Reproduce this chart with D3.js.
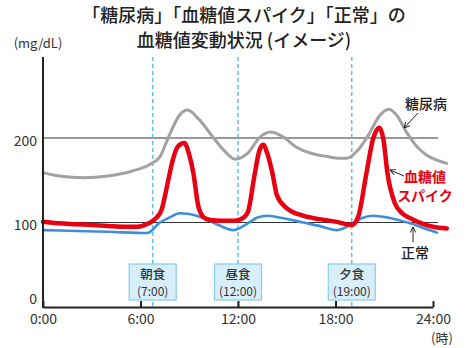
<!DOCTYPE html>
<html><head><meta charset="utf-8">
<script src="https://cdn.jsdelivr.net/npm/d3@7"></script>
<style>
html,body{margin:0;padding:0;background:#fff;}
svg{display:block;font-family:"Noto Sans CJK JP","Noto Sans",sans-serif;}
</style></head>
<body>
<svg id="chart" width="472" height="348"></svg>
<script>
// ---- data ----
const titleLines = ["「糖尿病」「血糖値スパイク」「正常」の", "血糖値変動状況 (イメージ)"];
const xTickValues = [0, 6, 12, 18, 24];
const xTickLabels = ["0:00", "6:00", "12:00", "18:00", "24:00"];
const yTickValues = [0, 100, 200];
const refLines = [100, 200];
const mealNames = ["朝食", "昼食", "夕食"];
const mealLabels = ["(7:00)", "(12:00)", "(19:00)"];
const mealTimes = [6.75, 12, 19];

const diabetesHours  = [0, 1, 2.5, 4, 5.5, 6.6, 7.2, 7.7, 8.4, 8.9, 9.6, 10.5, 11.3, 11.8, 12.6, 13.3, 14, 14.8, 15.6, 16.5, 17.5, 18.2, 18.7, 19.4, 20.1, 20.7, 21.3, 21.8, 22.4, 23, 23.6, 24.2, 24.85];
const diabetesValues = [159, 155, 153, 155, 161, 169, 178, 200, 227, 233, 222, 200, 182, 175, 182, 200, 207, 201, 189, 182, 178, 176, 176, 186, 206, 226, 234, 226, 206, 190, 180, 174, 170];

const spikeHours  = [0, 1, 2, 3, 4, 5, 5.8, 6.5, 7.0, 7.3, 7.6, 8.0, 8.3, 8.7, 9.0, 9.25, 9.55, 9.9, 10.3, 11, 11.8, 12.2, 12.6, 13.0, 13.3, 13.55, 13.8, 14.1, 14.4, 15, 16, 17, 18, 19, 19.4, 19.9, 20.3, 20.7, 20.95, 21.2, 21.65, 22.1, 22.6, 23.3, 24, 24.85];
const spikeValues = [101, 99, 98, 97, 96, 95, 95, 99, 106, 115, 140, 175, 190, 194, 180, 159, 120, 106, 103, 102, 102, 104, 112, 154, 184, 192, 182, 160, 132, 117, 108, 104, 101, 97, 107, 158, 198, 212, 198, 158, 123, 111, 105, 99, 95, 93];

const normalHours  = [0, 2, 4, 6.4, 7.2, 7.8, 8.4, 9.0, 9.9, 10.8, 11.7, 12.6, 13.2, 13.8, 14.8, 16, 17, 18.1, 18.9, 19.6, 20.3, 21.2, 22.6, 23.5, 24.25];
const normalValues = [91, 90, 89, 87.5, 100, 106, 111, 110, 105, 97, 91, 99, 106, 108, 105, 100, 96, 91, 97, 105, 108, 106, 99, 93, 88];

// ---- layout ----
const svg = d3.select("#chart");
const x = d3.scaleLinear().domain([0, 24]).range([43, 433]);
const y = d3.scaleLinear().domain([0, 200]).range([307, 138]);
const yTop = 57;

// title
svg.append("g").selectAll("text").data(titleLines).join("text")
  .attr("x", 244).attr("y", (d, i) => 22 + i * 25)
  .attr("text-anchor", "middle")
  .attr("font-size", 18).attr("font-weight", 500).attr("fill", "#222")
  .text(d => d);

// unit
svg.append("text").attr("x", 38).attr("y", 48).attr("text-anchor", "middle")
  .attr("font-size", 13).attr("fill", "#333").text("(mg/dL)");

// reference lines
svg.append("g").selectAll("line").data(refLines).join("line")
  .attr("x1", x(0)).attr("x2", 438)
  .attr("y1", d => y(d)).attr("y2", d => y(d))
  .attr("stroke", "#333").attr("stroke-width", 1);

// meal dashed lines
svg.append("g").selectAll("line").data(mealTimes).join("line")
  .attr("x1", d => x(d)).attr("x2", d => x(d))
  .attr("y1", yTop).attr("y2", y(0))
  .attr("stroke", "#5cc0ec").attr("stroke-width", 1.5)
  .attr("stroke-dasharray", "4,3");

// series
const line = d3.line().x(d => x(d[0])).y(d => y(d[1])).curve(d3.curveMonotoneX);
function series(hours, vals, color, w) {
  svg.append("path").datum(hours.map((h, i) => [h, vals[i]]))
    .attr("d", line).attr("fill", "none")
    .attr("stroke", color).attr("stroke-width", w)
    .attr("stroke-linejoin", "round").attr("stroke-linecap", "round");
}
series(diabetesHours, diabetesValues, "#a2a2a2", 3);
series(normalHours, normalValues, "#3d8fd8", 2.6);
series(spikeHours, spikeValues, "#e60012", 4.5);

// meal boxes
const mg = svg.append("g").selectAll("g").data(mealTimes).join("g")
  .attr("transform", d => `translate(${x(d)},0)`);
mg.append("rect").attr("x", -23.5).attr("y", 264).attr("width", 47).attr("height", 36)
  .attr("fill", "#d8eef9").attr("stroke", "#86cdf0").attr("stroke-width", 1.2);
mg.append("text").attr("y", 279).attr("text-anchor", "middle")
  .attr("font-size", 12.5).attr("font-weight", 500).attr("fill", "#333")
  .text((d, i) => mealNames[i]);
mg.append("text").attr("y", 296).attr("text-anchor", "middle")
  .attr("font-size", 12).attr("fill", "#333")
  .text((d, i) => mealLabels[i]);

// axes
const xAxis = d3.axisBottom(x).tickValues(xTickValues)
  .tickFormat((d, i) => xTickLabels[i]).tickSizeInner(-6).tickSizeOuter(0).tickPadding(7);
const gx = svg.append("g").attr("transform", `translate(0,${y(0)})`).call(xAxis);
gx.select(".domain").attr("stroke", "#222").attr("stroke-width", 2);
gx.selectAll(".tick line").attr("stroke", "#222").attr("stroke-width", 2);
gx.selectAll(".tick text").attr("font-size", 14).attr("fill", "#333")
  .attr("font-family", "'Noto Sans CJK JP',sans-serif");

svg.append("line").attr("x1", x(0)).attr("x2", x(0)).attr("y1", yTop).attr("y2", y(0) + 1)
  .attr("stroke", "#222").attr("stroke-width", 2);

svg.append("g").selectAll("text").data(yTickValues).join("text")
  .attr("x", 37).attr("y", d => y(d) + (d === 0 ? -8 : 3))
  .attr("dy", "0.35em").attr("text-anchor", "end")
  .attr("font-size", 14).attr("fill", "#333").text(d => d);

svg.append("text").attr("x", 442).attr("y", 343).attr("text-anchor", "middle")
  .attr("font-size", 13).attr("fill", "#333").text("(時)");

// annotations
const defs = svg.append("defs");
defs.append("marker").attr("id", "arr").attr("viewBox", "0 0 10 10")
  .attr("refX", 9).attr("refY", 5).attr("markerWidth", 7).attr("markerHeight", 7)
  .attr("orient", "auto-start-reverse").attr("markerUnits", "userSpaceOnUse")
  .append("path").attr("d", "M1,1 L9,5 L1,9").attr("fill", "none")
  .attr("stroke", "#222").attr("stroke-width", 1.4);

function arrow(x1, y1, x2, y2) {
  svg.append("line").attr("x1", x1).attr("y1", y1).attr("x2", x2).attr("y2", y2)
    .attr("stroke", "#222").attr("stroke-width", 1).attr("marker-end", "url(#arr)");
}
svg.append("text").attr("x", 426).attr("y", 109).attr("text-anchor", "middle")
  .attr("font-size", 14).attr("font-weight", 500).attr("fill", "#222").text("糖尿病");
arrow(418, 113, 404, 128);

svg.append("text").attr("x", 425).attr("y", 182).attr("text-anchor", "middle")
  .attr("font-size", 14).attr("font-weight", 700).attr("fill", "#e60012").text("血糖値");
svg.append("text").attr("x", 425).attr("y", 201).attr("text-anchor", "middle")
  .attr("font-size", 14).attr("font-weight", 700).attr("fill", "#e60012").text("スパイク");
arrow(404, 176, 390, 170);

svg.append("text").attr("x", 415).attr("y", 258).attr("text-anchor", "middle")
  .attr("font-size", 14).attr("font-weight", 500).attr("fill", "#222").text("正常");
arrow(413, 242, 413, 227);
</script>
</body></html>
